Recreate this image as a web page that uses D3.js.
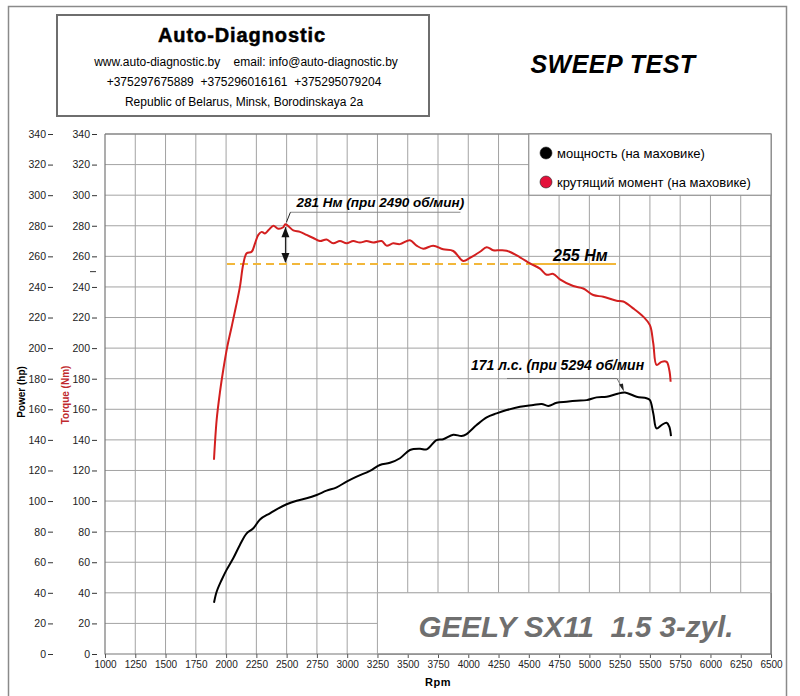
<!DOCTYPE html>
<html>
<head>
<meta charset="utf-8">
<script src="https://cdn.jsdelivr.net/npm/d3@7"></script>
<style>
  body { margin: 0; background: #fff; }
  svg { font-family: "Liberation Sans", Arial, sans-serif; }
</style>
</head>
<body>
<svg id="chart" width="800" height="696"></svg>
<script>
// data
const torqueRpm = [1900,1922,1949,1977,2010,2046,2081,2114,2142,2170,2211,2239,2266,2294,2321,2349,2390,2431,2472,2490,2555,2610,2665,2720,2775,2830,2885,2940,2995,3050,3105,3160,3215,3285,3325,3380,3435,3518,3573,3628,3710,3793,3876,3958,4014,4097,4152,4206,4262,4317,4427,4510,4592,4647,4702,4757,4867,4950,5032,5115,5225,5280,5362,5445,5500,5528,5555,5596,5638,5660,5671];
const torqueNm = [127,153,171,186,201,214,227,240,255,262,263,268.5,274,276,275,277,280,278,279,281,277,276,274,272,270,271,268.5,270,268.5,270,269,270,269,270,267,268.5,268,270.5,267,265,267,264.6,263.5,257,259,263,266,264,264,263.7,259.4,255.4,252,248,248.5,245,240.6,239,234.7,233.6,231,230.5,226,220.6,215,203,189,191,191,185.7,178];

const powerRpm = [1900,1922,1963,2004,2059,2114,2170,2225,2280,2362,2417,2500,2583,2665,2748,2830,2913,2995,3078,3188,3270,3353,3436,3518,3601,3656,3738,3793,3876,3945,3986,4069,4152,4234,4317,4427,4537,4606,4661,4730,4812,4895,4978,5060,5143,5225,5294,5390,5472,5500,5528,5555,5596,5638,5660,5674];
const powerHp = [33.5,40.7,48.4,55,62.6,71.3,78.9,82.2,88,92,94.6,97.9,100.2,101.8,104,106.8,109,112.7,116,119.7,123.6,125,128,133.4,134.2,133.8,139.9,140.4,143.4,142.5,143.8,149.7,154.7,157.3,159.5,161.7,162.8,163.5,162.2,164.3,165,165.6,166,167.8,168.2,170,171,168.2,167.2,166,157.3,147.5,149.7,151.2,148.6,142.5];

const rpmTicks = d3.range(1000, 6501, 250);
const valueTicks = d3.range(0, 341, 20);

const peakTorque = {rpm: 2490, value: 281};
const peakPower = {rpm: 5294, value: 171};
const refTorque = 255;

const legendItems = [
  {label: "мощность (на маховике)", color: "#000"},
  {label: "крутящий момент (на маховике)", color: "#e3103a"}
];

const svg = d3.select("#chart");

const x = d3.scaleLinear().domain([1000, 6500]).range([105, 771]);
const y = d3.scaleLinear().domain([0, 340]).range([654, 134]);

// outer frame
svg.append("rect")
  .attr("x", 8.5).attr("y", 6.5).attr("width", 778).attr("height", 700)
  .attr("fill", "none").attr("stroke", "#8a8a8a").attr("stroke-width", 1.5);

// header box
svg.append("rect")
  .attr("x", 57).attr("y", 15).attr("width", 372).attr("height", 101)
  .attr("fill", "none").attr("stroke", "#6e6e6e").attr("stroke-width", 2);

const header = svg.append("g").attr("text-anchor", "middle");
header.append("text").attr("x", 242).attr("y", 42)
  .attr("font-size", 20).attr("font-weight", "bold").attr("letter-spacing", 0.9)
  .attr("stroke", "#000").attr("stroke-width", 0.5)
  .text("Auto-Diagnostic");
header.append("text").attr("x", 246).attr("y", 66).attr("font-size", 12)
  .attr("xml:space", "preserve")
  .text("www.auto-diagnostic.by    email: info@auto-diagnostic.by");
header.append("text").attr("x", 244).attr("y", 86).attr("font-size", 12)
  .attr("xml:space", "preserve")
  .text("+375297675889  +375296016161  +375295079204");
header.append("text").attr("x", 244).attr("y", 106).attr("font-size", 12)
  .text("Republic of Belarus, Minsk, Borodinskaya 2a");

svg.append("text").attr("x", 613).attr("y", 73).attr("text-anchor", "middle")
  .attr("font-size", 25).attr("font-weight", "bold").attr("font-style", "italic")
  .attr("letter-spacing", 0.5)
  .text("SWEEP TEST");

// grid
const grid = svg.append("g").attr("stroke", "#a3a3a3").attr("stroke-width", 1);
grid.selectAll("line.v").data(rpmTicks.slice(1)).enter().append("line")
  .attr("x1", d => x(d)).attr("x2", d => x(d))
  .attr("y1", y(340)).attr("y2", y(0));
grid.selectAll("line.h").data(valueTicks.slice(1)).enter().append("line")
  .attr("x1", x(1000)).attr("x2", x(6500))
  .attr("y1", d => y(d)).attr("y2", d => y(d));

// plot frame
svg.append("path")
  .attr("d", `M${x(1000)},${y(340)}V${y(0)}H${x(6500)}V${y(340)}H${x(1000)}`)
  .attr("fill", "none").attr("stroke", "#777").attr("stroke-width", 1.2);

// axes
const xAxis = svg.append("g").attr("transform", `translate(0,${y(0)})`)
  .call(d3.axisBottom(x).tickValues(rpmTicks).tickSize(4).tickPadding(3).tickFormat(d3.format("d")));
xAxis.select(".domain").remove();
xAxis.selectAll("text").attr("font-size", 10).attr("fill", "#222").attr("font-family", "Liberation Sans Narrow, Liberation Sans, Arial");
xAxis.selectAll("line").attr("stroke", "#555");

[53, 97].forEach(pos => {
  const a = svg.append("g").attr("transform", `translate(${pos},0)`)
    .call(d3.axisLeft(y).tickValues(valueTicks).tickSize(5).tickPadding(2));
  a.select(".domain").remove();
  a.selectAll("text").attr("font-size", 10.5).attr("fill", "#222");
  a.selectAll("line").attr("stroke", "#333");
});
// extra reference tick on the torque column
svg.append("line").attr("x1", 90).attr("x2", 96)
  .attr("y1", y(250)).attr("y2", y(250)).attr("stroke", "#333");

svg.append("text").attr("transform", `translate(25,392) rotate(-90)`)
  .attr("text-anchor", "middle").attr("font-size", 10).attr("font-weight", "bold")
  .text("Power (hp)");
svg.append("text").attr("transform", `translate(69,395) rotate(-90)`)
  .attr("text-anchor", "middle").attr("font-size", 10).attr("font-weight", "bold")
  .attr("fill", "#c0282d")
  .text("Torque (Nm)");
svg.append("text").attr("x", x(3750)).attr("y", 686).attr("text-anchor", "middle")
  .attr("font-size", 11).attr("font-weight", "bold").attr("letter-spacing", 0.5)
  .text("Rpm");

// legend box
const lg = svg.append("g");
lg.append("rect")
  .attr("x", x(4500)).attr("y", y(340)).attr("width", x(6500) - x(4500)).attr("height", y(300) - y(340))
  .attr("fill", "#fff").attr("stroke", "#888");
lg.selectAll("circle").data(legendItems).enter().append("circle")
  .attr("cx", 546).attr("cy", (d, i) => 153 + i * 29).attr("r", 6)
  .attr("fill", d => d.color).attr("stroke", "#222").attr("stroke-width", 0.6);
lg.selectAll("text").data(legendItems).enter().append("text")
  .attr("x", 557).attr("y", (d, i) => 157.5 + i * 29)
  .attr("font-size", 13).text(d => d.label);

// car label box
const cb = svg.append("g");
cb.append("rect")
  .attr("x", x(3250)).attr("y", y(40)).attr("width", x(6500) - x(3250)).attr("height", y(0) - y(40))
  .attr("fill", "#fff").attr("stroke", "#aaa");
svg.append("path")
  .attr("d", `M${x(3250)},${y(0)}H${x(6500)}V${y(40)}`)
  .attr("fill", "none").attr("stroke", "#777").attr("stroke-width", 1.2);
cb.append("text").attr("x", 576).attr("y", 637).attr("text-anchor", "middle")
  .attr("font-size", 29.5).attr("font-weight", "bold").attr("font-style", "italic")
  .attr("fill", "#6f6f6f").attr("xml:space", "preserve")
  .text("GEELY SX11  1.5 3-zyl.");

// reference line 255 Nm
svg.append("line")
  .attr("x1", 227).attr("x2", x(4530))
  .attr("y1", y(refTorque)).attr("y2", y(refTorque))
  .attr("stroke", "#f2b73a").attr("stroke-width", 2).attr("stroke-dasharray", "8,5");
svg.append("line")
  .attr("x1", x(4530)).attr("x2", x(5220))
  .attr("y1", y(refTorque)).attr("y2", y(refTorque))
  .attr("stroke", "#f2b73a").attr("stroke-width", 2.2);

// curves
const line = d3.line().curve(d3.curveCatmullRom.alpha(0.5));
svg.append("path")
  .datum(d3.zip(torqueRpm, torqueNm))
  .attr("d", line.x(d => x(d[0])).y(d => y(d[1])))
  .attr("fill", "none").attr("stroke", "#d31f1f").attr("stroke-width", 2);
svg.append("path")
  .datum(d3.zip(powerRpm, powerHp))
  .attr("d", line.x(d => x(d[0])).y(d => y(d[1])))
  .attr("fill", "none").attr("stroke", "#000").attr("stroke-width", 2);

// annotations
const ann = svg.append("g").attr("font-weight", "bold").attr("font-style", "italic").attr("font-size", 13.5);
const px = x(peakTorque.rpm), py = y(peakTorque.value);
ann.append("text").attr("x", px + 11).attr("y", py - 17)
  .text(`${peakTorque.value} Нм (при ${peakTorque.rpm} об/мин)`);
svg.append("path").attr("d", `M${px + 5},${py - 12}H${px + 175}`)
  .attr("stroke", "#888").attr("fill", "none");
svg.append("path").attr("d", `M${px + 5},${py - 12}L${px + 1},${py - 2}`)
  .attr("stroke", "#222").attr("fill", "none");

// double arrow between peak and 255 line
const ry = y(refTorque);
svg.append("line").attr("x1", px).attr("x2", px).attr("y1", py + 3).attr("y2", ry - 2)
  .attr("stroke", "#111").attr("stroke-width", 1);
svg.append("path").attr("d", `M${px},${py + 3}l-4,10h8z`).attr("fill", "#111");
svg.append("path").attr("d", `M${px},${ry - 1}l-4,-10h8z`).attr("fill", "#111");

ann.append("text").attr("x", 553).attr("y", ry - 3).attr("font-size", 16)
  .text(`${refTorque} Нм`);

const qx = x(peakPower.rpm), qy = y(peakPower.value);
ann.append("text").attr("x", 471).attr("y", qy - 22).attr("font-size", 14)
  .text(`${peakPower.value} л.с. (при ${peakPower.rpm} об/мин`);
svg.append("path").attr("d", `M507,${qy - 14}H${qx - 8}L${qx - 2},${qy - 3}`)
  .attr("stroke", "#777").attr("fill", "none");
svg.append("path").attr("d", `M${qx - 1},${qy - 1}l-5,-7l4,-1z`).attr("fill", "#222");
</script>
</body>
</html>
